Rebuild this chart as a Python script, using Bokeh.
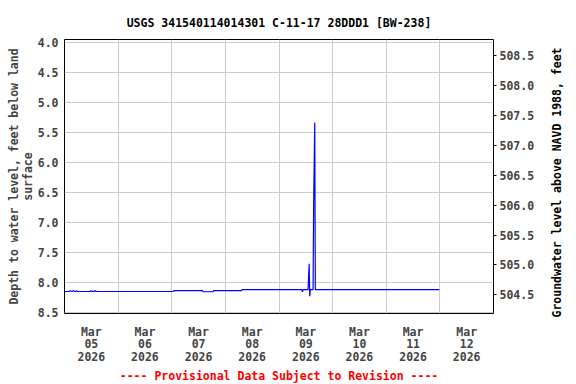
import math
import pandas as pd
from bokeh.plotting import figure
from bokeh.models import Range1d, LinearAxis, FixedTicker, Title, NumeralTickFormatter, Label
from bokeh.embed import file_html
from bokeh.resources import INLINE

# ---- data ----
times = [
    "2026-03-05 00:00", "2026-03-05 02:12", "2026-03-05 02:24", "2026-03-05 02:48",
    "2026-03-05 03:00", "2026-03-05 03:36", "2026-03-05 03:48", "2026-03-05 04:12",
    "2026-03-05 04:24", "2026-03-05 05:00", "2026-03-05 05:12", "2026-03-05 05:30",
    "2026-03-05 05:42", "2026-03-05 11:30", "2026-03-05 11:48", "2026-03-05 12:12",
    "2026-03-05 12:30", "2026-03-05 13:12", "2026-03-05 13:30", "2026-03-05 13:54",
    "2026-03-05 14:12", "2026-03-07 00:45", "2026-03-07 01:00", "2026-03-07 13:45",
    "2026-03-07 14:00", "2026-03-07 18:30", "2026-03-07 18:45", "2026-03-08 07:15",
    "2026-03-08 07:30", "2026-03-09 10:15", "2026-03-09 10:30", "2026-03-09 10:45",
    "2026-03-09 13:00", "2026-03-09 13:15", "2026-03-09 13:30", "2026-03-09 13:45",
    "2026-03-09 14:00", "2026-03-09 15:15", "2026-03-09 15:30", "2026-03-09 16:00",
    "2026-03-09 16:15", "2026-03-11 23:45",
]
depth = [
    8.153, 8.153, 8.140, 8.140,
    8.153, 8.153, 8.140, 8.140,
    8.153, 8.153, 8.140, 8.140,
    8.153, 8.153, 8.140, 8.140,
    8.153, 8.153, 8.140, 8.140,
    8.153, 8.153, 8.137, 8.137,
    8.157, 8.157, 8.137, 8.137,
    8.122, 8.122, 8.160, 8.122,
    8.122, 7.920, 7.690, 8.230,
    8.122, 8.122, 6.730, 5.330,
    8.122, 8.122,
]
land_surface_elev = 512.71   # NAVD 1988, feet

x_start = "2026-03-05 00:00"
x_end = "2026-03-13 00:00"
label_days = ["2026-03-05 12:00", "2026-03-06 12:00", "2026-03-07 12:00", "2026-03-08 12:00",
              "2026-03-09 12:00", "2026-03-10 12:00", "2026-03-11 12:00", "2026-03-12 12:00"]
label_text = ["Mar\n05\n2026", "Mar\n06\n2026", "Mar\n07\n2026", "Mar\n08\n2026",
              "Mar\n09\n2026", "Mar\n10\n2026", "Mar\n11\n2026", "Mar\n12\n2026"]
grid_days = ["2026-03-06", "2026-03-07", "2026-03-08", "2026-03-09",
             "2026-03-10", "2026-03-11", "2026-03-12"]
depth_ticks = [4.0, 4.5, 5.0, 5.5, 6.0, 6.5, 7.0, 7.5, 8.0, 8.5]
elev_ticks = [504.5, 505.0, 505.5, 506.0, 506.5, 507.0, 507.5, 508.0, 508.5]
depth_top, depth_bottom = 3.945, 8.52

title_text = "USGS 341540114014301 C-11-17 28DDD1 [BW-238]"
footer_text = "---- Provisional Data Subject to Revision ----"
left_label = "Depth to water level, feet below land\nsurface"
right_label = "Groundwater level above NAVD 1988, feet"


def ms(s):
    return int(pd.Timestamp(s).value // 1_000_000)


FONT = "DejaVu Sans Mono"
FS = "11.5px"

p = figure(width=576, height=384, x_axis_type="datetime",
           x_range=Range1d(ms(x_start), ms(x_end)),
           y_range=Range1d(depth_bottom, depth_top),
           output_backend="svg", toolbar_location=None,
           min_border_left=64, min_border_right=83,
           min_border_top=39, min_border_bottom=71)

p.background_fill_color = "white"
p.border_fill_color = "white"
p.outline_line_color = "black"
p.outline_line_width = 1

# title
p.title.text = title_text
p.title.align = "center"
p.title.text_font = FONT
p.title.text_font_size = FS
p.title.text_font_style = "bold"
p.title.text_color = "black"
p.title.standoff = 19

# data line
p.line([ms(t) for t in times], depth, color="#0000ff", line_width=1.2)

# grids
p.xgrid.ticker = FixedTicker(ticks=[ms(d) for d in grid_days])
p.ygrid.ticker = FixedTicker(ticks=depth_ticks)
for g in (p.xgrid[0], p.ygrid[0]):
    g.grid_line_color = "#cccccc"
    g.grid_line_width = 1

# x axis
xa = p.xaxis[0]
xa.ticker = FixedTicker(ticks=[ms(d) for d in label_days])
xa.major_label_overrides = {ms(d): t for d, t in zip(label_days, label_text)}
xa.axis_line_color = None
xa.major_tick_line_color = None
xa.minor_tick_line_color = None
xa.major_tick_out = 0
xa.major_tick_in = 0
xa.major_label_standoff = 11
xa.major_label_text_font = FONT
xa.major_label_text_font_size = FS
xa.major_label_text_font_style = "bold"
xa.major_label_text_line_height = 0.9

# left axis
ya = p.yaxis[0]
ya.ticker = FixedTicker(ticks=depth_ticks)
ya.formatter = NumeralTickFormatter(format="0.0")
ya.axis_line_color = None
ya.major_tick_line_color = None
ya.minor_tick_line_color = None
ya.major_tick_out = 0
ya.major_tick_in = 0
ya.major_label_standoff = 6
ya.major_label_text_font = FONT
ya.major_label_text_font_size = FS
ya.major_label_text_font_style = "bold"
ya.axis_label = left_label
ya.axis_label_text_font = FONT
ya.axis_label_text_font_size = FS
ya.axis_label_text_font_style = "bold"
ya.axis_label_text_line_height = 1.0
ya.axis_label_standoff = 0

# right axis (elevation)
p.extra_y_ranges = {"elev": Range1d(land_surface_elev - depth_bottom,
                                    land_surface_elev - depth_top)}
ra = LinearAxis(y_range_name="elev")
ra.ticker = FixedTicker(ticks=elev_ticks)
ra.formatter = NumeralTickFormatter(format="0.0")
ra.axis_line_color = None
ra.major_tick_line_color = "black"
ra.major_tick_out = 3
ra.major_tick_in = 0
ra.minor_tick_line_color = None
ra.major_label_standoff = 3
ra.major_label_text_font = FONT
ra.major_label_text_font_size = FS
ra.major_label_text_font_style = "bold"
p.add_layout(ra, "right")

# right axis title, reading bottom-to-top, in the right side panel
rlab = Label(x=19, y=131, x_units="screen", y_units="screen", text=right_label,
             angle=math.pi / 2, text_align="center", text_baseline="middle",
             text_font=FONT, text_font_size=FS, text_font_style="bold",
             text_color="black")
p.add_layout(rlab, "right")

# footer
footer = Title(text=footer_text, align="center", text_color="#ff0000",
               text_font=FONT, text_font_size=FS, text_font_style="bold",
               standoff=0)
p.add_layout(footer, "below")

open("out.html", "w").write(file_html(p, INLINE))
